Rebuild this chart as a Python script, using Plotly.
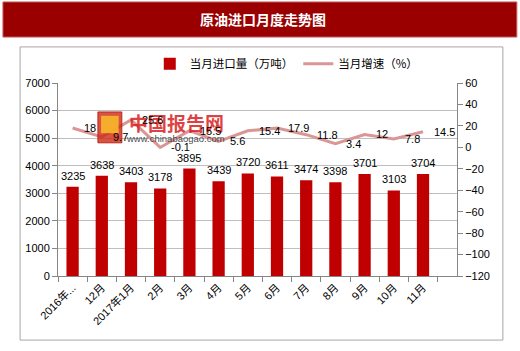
import plotly.graph_objects as go

categories = ["2016年...", "12月", "2017年1月", "2月", "3月", "4月", "5月",
              "6月", "7月", "8月", "9月", "10月", "11月"]
imports = [3235, 3638, 3403, 3178, 3895, 3439, 3720, 3611, 3474, 3398, 3701, 3103, 3704]
growth = [18, 9.7, 25.6, -0.1, 15.5, 5.6, 15.4, 17.9, 11.8, 3.4, 12, 7.8, 14.5]

num_font = "Liberation Sans, Arial, sans-serif"
cjk_font = "Noto Sans CJK SC, sans-serif"

fig = go.Figure()
fig.add_trace(go.Bar(
    x=categories, y=imports, name="当月进口量（万吨）",
    marker=dict(color="#C00000", line=dict(width=0)),
    width=0.42,
))
fig.add_trace(go.Scatter(
    x=categories, y=growth, name="当月增速（%）", yaxis="y2",
    mode="lines", line=dict(color="#D99694", width=3),
))

annotations = []
# watermark (drawn first, beneath labels)
annotations.append(dict(
    x=0.172, y=0.795, xref="paper", yref="paper", xanchor="left", yanchor="middle",
    text="<b>中国报告网</b>", showarrow=False,
    font=dict(family=cjk_font, size=19, color="rgba(215,30,30,0.85)"),
))
annotations.append(dict(
    x=0.165, y=0.71, xref="paper", yref="paper", xanchor="left", yanchor="middle",
    text="www.chinabaogao.com", showarrow=False,
    font=dict(family=num_font, size=9.5, color="rgba(40,40,40,0.85)"),
))
for c, v in zip(categories, imports):
    annotations.append(dict(
        x=c, y=v, xref="x", yref="y", text=str(v), showarrow=False,
        xanchor="center", yanchor="bottom", yshift=3,
        font=dict(family=num_font, size=11, color="#000000"),
    ))
for c, g in zip(categories, growth):
    annotations.append(dict(
        x=c, y=g, xref="x", yref="y2", text=f"{g:g}", showarrow=False,
        xanchor="left", yanchor="middle", xshift=9,
        font=dict(family=num_font, size=11, color="#000000"),
    ))
# title
annotations.append(dict(
    x=0.5, y=1.33, xref="paper", yref="paper", xanchor="center", yanchor="middle",
    text="<b>原油进口月度走势图</b>", showarrow=False,
    font=dict(family=cjk_font, size=14, color="#FFFFFF"), xshift=5,
))

shapes = [
    dict(type="rect", xref="paper", yref="paper", x0=-0.138, x1=1.150, y0=1.238, y1=1.42,
         fillcolor="#9A0000", line=dict(color="#C86060", width=1), layer="below"),
    dict(type="rect", xref="paper", yref="paper", x0=-0.095, x1=1.115, y0=-0.332, y1=1.187,
         fillcolor="rgba(0,0,0,0)", line=dict(color="#A6A6A6", width=1), layer="below"),
    dict(type="rect", xref="paper", yref="paper", x0=0.100, x1=0.160, y0=0.69, y1=0.85,
         fillcolor="rgba(205,40,20,0.8)", line=dict(color="rgba(190,30,20,0.9)", width=1)),
    dict(type="rect", xref="paper", yref="paper", x0=0.108, x1=0.152, y0=0.74, y1=0.83,
         fillcolor="rgba(250,190,40,0.85)", line=dict(width=0)),
]

fig.update_layout(
    width=520, height=351,
    margin=dict(l=58, r=63, t=83, b=75),
    paper_bgcolor="#FFFFFF", plot_bgcolor="#FFFFFF",
    showlegend=True,
    legend=dict(orientation="h", x=0.23, y=1.10, xanchor="left", yanchor="middle",
                font=dict(family=cjk_font, size=11.5, color="#000000"),
                itemwidth=30, traceorder="normal", bgcolor="rgba(0,0,0,0)"),
    xaxis=dict(
        type="category", tickangle=-45, tickson="boundaries",
        ticks="outside", ticklen=5, tickcolor="#868686",
        showline=True, linecolor="#868686", linewidth=1,
        showgrid=False,
        tickfont=dict(family=num_font + ", " + cjk_font, size=11, color="#000000"),
    ),
    yaxis=dict(
        range=[0, 7000], dtick=1000, tick0=0,
        showgrid=True, gridcolor="#BFBFBF", gridwidth=1,
        showline=True, linecolor="#868686", linewidth=1,
        ticks="outside", ticklen=5, tickcolor="#868686",
        zeroline=False,
        tickfont=dict(family=num_font, size=11, color="#000000"),
    ),
    yaxis2=dict(
        overlaying="y", side="right", range=[-120, 60], dtick=20, tick0=-120,
        showgrid=False, zeroline=False,
        showline=True, linecolor="#868686", linewidth=1,
        ticks="outside", ticklen=5, tickcolor="#868686",
        tickfont=dict(family=num_font, size=11, color="#000000"),
    ),
    annotations=annotations,
    shapes=shapes,
)

fig.write_html("out.html")
